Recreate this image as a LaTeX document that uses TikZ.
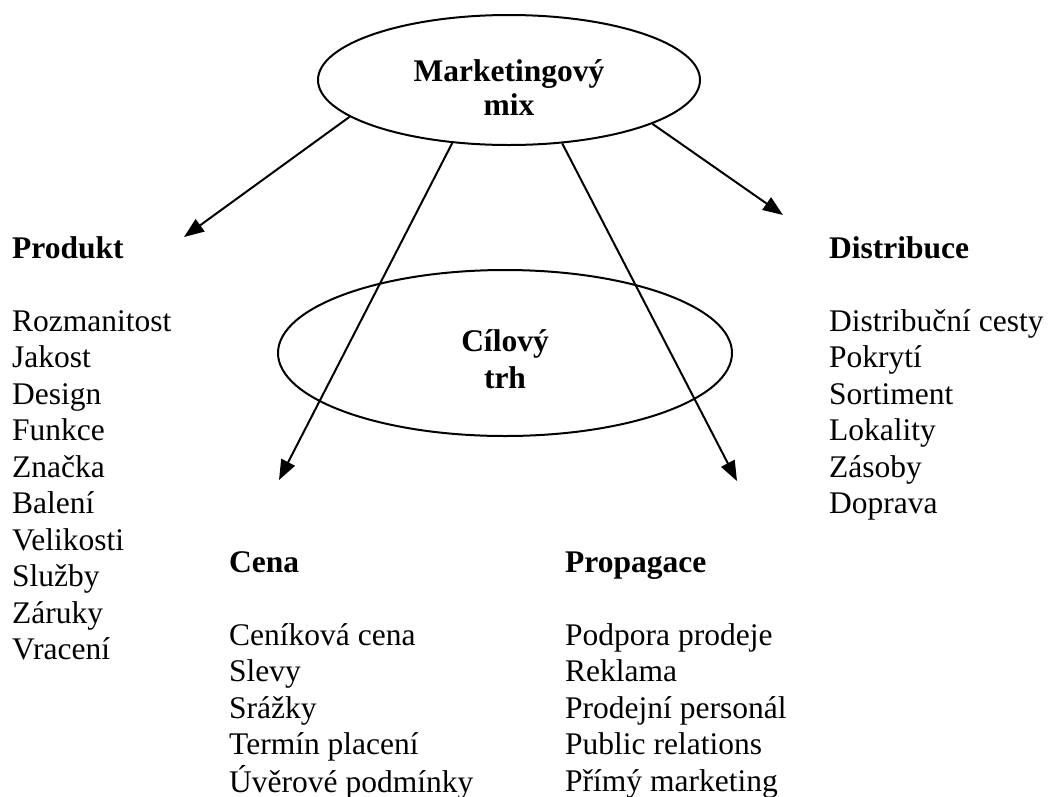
\documentclass[tikz,border=0pt]{standalone}
\usepackage{fontspec}
\setmainfont{Liberation Serif}
\usepackage{tikz}
\usetikzlibrary{arrows.meta}
\usetikzlibrary{shapes,positioning}
\newcommand{\bigtext}{\fontsize{31.5pt}{36.5pt}\selectfont}
\tikzset{>={Triangle[length=20pt,width=15pt]},
  oval/.style={draw,ellipse,line width=2pt,inner sep=0pt},
  ovaltext/.style={anchor=base,align=center,inner sep=0pt,font=\bfseries\bigtext},
  column/.style={anchor=base west,inner sep=0pt,font=\bigtext},
  pointer/.style={->,line width=2pt}}

\begin{document}
\begin{tikzpicture}[x=1pt,y=-1pt]

  \useasboundingbox (0,0) rectangle (1049,796);

  \node [oval,minimum width=382pt,minimum height=130pt] (mix) at (509,80) {};
  \node [ovaltext] (mix text) at (509,115) {Marketingový\\[-2.5pt]mix};
  \node [oval,minimum width=454pt,minimum height=166pt] (trh) at (505,353) {};
  \node [ovaltext] (trh text) at (505,388) {Cílový\\trh};

  \node [column] (produkt) at (12,258) {\begin{tabular}[t]{@{}l@{}}\textbf{Produkt}\\[36.5pt]Rozmanitost\\Jakost\\Design\\Funkce\\Značka\\Balení\\Velikosti\\Služby\\Záruky\\Vracení\end{tabular}};
  \node [column] (distribuce) at (829,258) {\begin{tabular}[t]{@{}l@{}}\textbf{Distribuce}\\[36.5pt]Distribuční cesty\\Pokrytí\\Sortiment\\Lokality\\Zásoby\\Doprava\end{tabular}};
  \node [column] (cena) at (229,572) {\begin{tabular}[t]{@{}l@{}}\textbf{Cena}\\[36.5pt]Ceníková cena\\Slevy\\Srážky\\Termín placení\\Úvěrové podmínky\end{tabular}};
  \node [column] (propagace) at (565,572) {\begin{tabular}[t]{@{}l@{}}\textbf{Propagace}\\[36.5pt]Podpora prodeje\\Reklama\\Prodejní personál\\Public relations\\Přímý marketing\end{tabular}};

  % arrow tips
  \coordinate (produkt tip) at (184,237);
  \coordinate (cena tip) at (279,480);
  \coordinate (propagace tip) at (737,481);
  \coordinate (distribuce tip) at (783,215);

  \draw [pointer] (mix.193) -- (produkt tip);
  \draw [pointer] (mix.228) -- (cena tip);
  \draw [pointer] (mix.310) -- (propagace tip);
  \draw [pointer] (mix.343) -- (distribuce tip);

\end{tikzpicture}
\end{document}
